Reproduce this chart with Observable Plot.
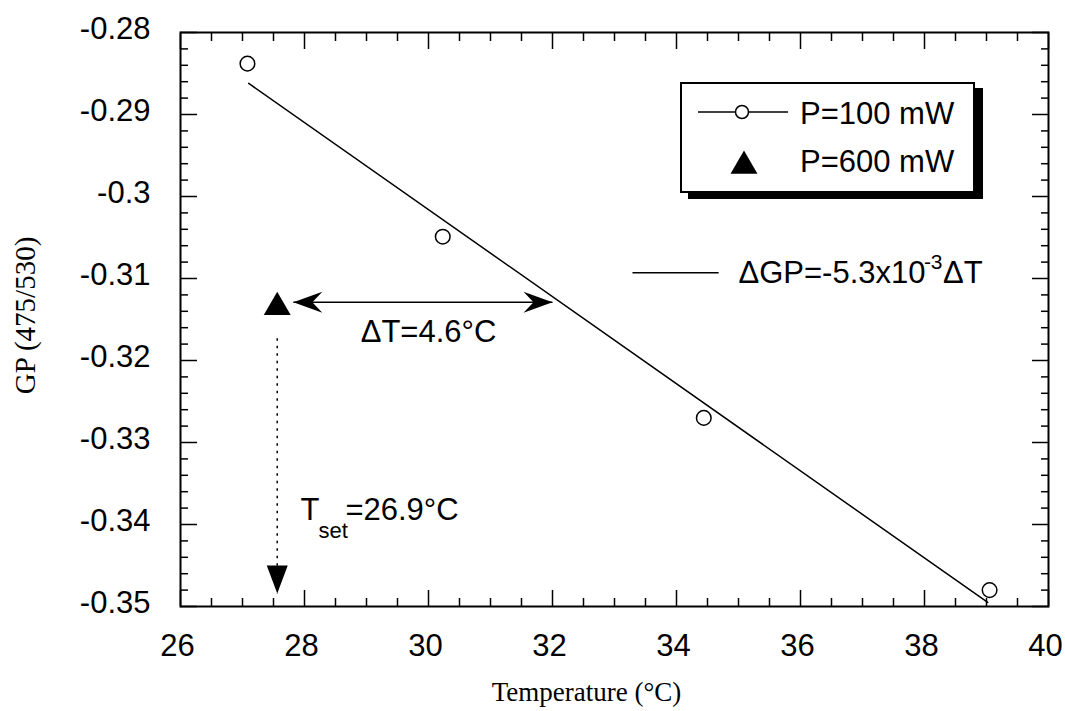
<!DOCTYPE html>
<html>
<head>
<meta charset="utf-8">
<script src="https://cdn.jsdelivr.net/npm/d3@7"></script>
<script src="https://cdn.jsdelivr.net/npm/@observablehq/plot@0.6"></script>
<style>
  body { margin: 0; background: #fff; }
  #wrap { position: relative; width: 1065px; height: 711px; font-family: "Liberation Sans", Arial, Helvetica, sans-serif; }
  #legend { position: absolute; left: 680px; top: 82px; width: 295px; height: 111px; box-sizing: border-box;
            border: 2px solid #000; background: #fff; box-shadow: 8px 6px 0 #000; }
  .lt { position: absolute; left: 118px; font-size: 31px; line-height: 36px; height: 36px; color: #000; white-space: nowrap; }
</style>
</head>
<body>
<div id="wrap">
  <div id="chart"></div>
  <div id="legend"></div>
</div>
<script>
// ---- data ----
const temp100 = [27.08, 30.23, 34.44, 39.05];
const gp100   = [-0.2838, -0.3049, -0.3270, -0.3480];
const temp600 = [27.56];
const gp600   = [-0.3135];
const fitTemp = [27.1, 39.02];
const fitGP   = [-0.2862, -0.3495];
const seriesNames = ["P=100 mW", "P=600 mW"];

const xTicks = [26, 28, 30, 32, 34, 36, 38, 40];
const xTickLabels = ["26", "28", "30", "32", "34", "36", "38", "40"];
const yTicks = [-0.35, -0.34, -0.33, -0.32, -0.31, -0.30, -0.29, -0.28];
const yTickLabels = ["-0.35", "-0.34", "-0.33", "-0.32", "-0.31", "-0.3", "-0.29", "-0.28"];
const xTitle = "Temperature (°C)";
const yTitle = "GP (475/530)";

// annotations (positions in data units)
const deltaArrowT = [27.82, 32.0];
const deltaArrowGP = [-0.3129];
const deltaText = ["ΔT=4.6°C"];
const deltaTextPos = [30.0, -0.3178];
const setArrowT = [27.56];
const setArrowGP = [-0.3173, -0.3484];
const setMainText = ["T", "=26.9°C"];
const setMainT = [27.935, 28.66];
const setMainGP = [-0.3395];
const setSubText = ["set"];
const setSubT = [28.226];
const setSubGP = [-0.3416];
const eqSampleT = [33.29, 34.68];
const eqSampleGP = [-0.3093];
const eqMainText = ["ΔGP=-5.3x10", "ΔT"];
const eqMainT = [35.0, 38.3];
const eqMainGP = [-0.3106];
const eqSupText = ["-3"];
const eqSupT = [37.99];
const eqSupGP = [-0.3088];

// ---- tables built from the arrays ----
const pts100 = temp100.map((t, i) => ({t, gp: gp100[i]}));
const pts600 = temp600.map((t, i) => ({t, gp: gp600[i]}));
const fit = fitTemp.map((t, i) => ({t, gp: fitGP[i]}));
const xMinor = d3.range(26, 40.001, 0.5).filter(v => !xTicks.includes(v));
const yMinor = d3.range(0, 36).map(i => -0.35 + i * 0.002).filter(v => !yTicks.some(t => Math.abs(t - v) < 1e-9));
const yFmt = d => yTickLabels[yTicks.findIndex(t => Math.abs(t - d) < 1e-9)];
const xFmt = d => xTickLabels[xTicks.indexOf(d)];

const deltaLink = [{x1: deltaArrowT[0], x2: deltaArrowT[1], y: deltaArrowGP[0]}];
const deltaHeads = [
  {x: deltaArrowT[0], y: deltaArrowGP[0], a: -90},
  {x: deltaArrowT[1], y: deltaArrowGP[0], a: 90}
];
const setLink = [{x: setArrowT[0], y1: setArrowGP[0], y2: setArrowGP[1]}];
const setHead = [{x: setArrowT[0], y: setArrowGP[1], a: 180}];
const setMain = setMainText.map((s, i) => ({s, x: setMainT[i], y: setMainGP[0]}));
const setSub = setSubText.map((s, i) => ({s, x: setSubT[i], y: setSubGP[0]}));
const eqLink = [{x1: eqSampleT[0], x2: eqSampleT[1], y: eqSampleGP[0]}];
const eqMain = eqMainText.map((s, i) => ({s, x: eqMainT[i], y: eqMainGP[0]}));
const eqSup = eqSupText.map((s, i) => ({s, x: eqSupT[i], y: eqSupGP[0]}));

// arrowhead shapes (tip at origin, pointing up)
const stealthHead = { draw(ctx, size) { const r = Math.sqrt(size / Math.PI);
  ctx.moveTo(0, 0); ctx.lineTo(1.05 * r, 2.9 * r); ctx.lineTo(0, 1.9 * r); ctx.lineTo(-1.05 * r, 2.9 * r); ctx.closePath(); } };
const plainHead = { draw(ctx, size) { const r = Math.sqrt(size / Math.PI);
  ctx.moveTo(0, 0); ctx.lineTo(1.05 * r, 2.8 * r); ctx.lineTo(-1.05 * r, 2.8 * r); ctx.closePath(); } };

const sans = '"Liberation Sans", Arial, Helvetica, sans-serif';
const serif = '"Liberation Serif", "Times New Roman", Times, serif';
const F = 31;

const chart = Plot.plot({
  width: 1065, height: 711,
  marginTop: 32, marginRight: 17, marginBottom: 105, marginLeft: 180,
  x: {domain: [26, 40]},
  y: {domain: [-0.35, -0.28]},
  style: {fontFamily: sans, color: "#000", background: "#fff", overflow: "visible"},
  marks: [
    // ticks inward on all sides
    Plot.axisX(xTicks, {anchor: "bottom", tickSize: -16, fill: "none", strokeWidth: 1.5}),
    Plot.axisX(xMinor, {anchor: "bottom", tickSize: -8, fill: "none", strokeWidth: 1.5}),
    Plot.axisX(xTicks, {anchor: "top", tickSize: -16, fill: "none", strokeWidth: 1.5}),
    Plot.axisX(xMinor, {anchor: "top", tickSize: -8, fill: "none", strokeWidth: 1.5}),
    Plot.axisY(yTicks, {anchor: "left", tickSize: -17, fill: "none", strokeWidth: 1.5}),
    Plot.axisY(yMinor, {anchor: "left", tickSize: -8, fill: "none", strokeWidth: 1.5}),
    Plot.axisY(yTicks, {anchor: "right", tickSize: -17, fill: "none", strokeWidth: 1.5}),
    Plot.axisY(yMinor, {anchor: "right", tickSize: -8, fill: "none", strokeWidth: 1.5}),
    // tick labels
    Plot.axisX(xTicks, {anchor: "bottom", tickSize: 0, tickPadding: 27, dx: -3, tickFormat: xFmt, fontSize: F, label: null, fill: "#000"}),
    Plot.axisY(yTicks, {anchor: "left", tickSize: 0, tickPadding: 30, dy: -3, tickFormat: yFmt, fontSize: F, label: null, fill: "#000"}),
    // axis titles
    Plot.text([xTitle], {text: d => d, frameAnchor: "bottom", dy: 86, dx: -28, textAnchor: "middle", lineAnchor: "middle", fontFamily: serif, fontSize: 27, fill: "#000"}),
    Plot.text([yTitle], {text: d => d, frameAnchor: "left", dx: -155, dy: -4, rotate: -90, textAnchor: "middle", lineAnchor: "middle", fontFamily: serif, fontSize: 29, fill: "#000"}),
    Plot.frame({stroke: "#000", strokeWidth: 2}),
    // fit line and data
    Plot.line(fit, {x: "t", y: "gp", stroke: "#000", strokeWidth: 1.5}),
    Plot.dot(pts100, {x: "t", y: "gp", r: 7.3, stroke: "#000", strokeWidth: 1.5, fill: "none"}),
    Plot.dot(pts600, {x: "t", y: "gp", symbol: "triangle", r: 10, fill: "#000", stroke: "none"}),
    // ΔT double arrow
    Plot.link(deltaLink, {x1: "x1", x2: "x2", y1: "y", y2: "y", stroke: "#000", strokeWidth: 1.5}),
    Plot.dot(deltaHeads, {x: "x", y: "y", rotate: "a", symbol: stealthHead, r: 10, fill: "#000", stroke: "none"}),
    Plot.text(deltaText, {text: d => d, x: () => deltaTextPos[0], y: () => deltaTextPos[1], textAnchor: "middle", lineAnchor: "bottom", fontSize: F, fill: "#000"}),
    // T_set dotted arrow
    Plot.link(setLink, {x1: "x", x2: "x", y1: "y1", y2: "y2", stroke: "#000", strokeWidth: 1.5, strokeDasharray: "2.5,5"}),
    Plot.dot(setHead, {x: "x", y: "y", rotate: "a", symbol: plainHead, r: 10, fill: "#000", stroke: "none"}),
    Plot.text(setMain, {x: "x", y: "y", text: "s", textAnchor: "start", lineAnchor: "bottom", fontSize: F, fill: "#000"}),
    Plot.text(setSub, {x: "x", y: "y", text: "s", textAnchor: "start", lineAnchor: "bottom", fontSize: 22, fill: "#000"}),
    // fit equation
    Plot.link(eqLink, {x1: "x1", x2: "x2", y1: "y", y2: "y", stroke: "#000", strokeWidth: 1.5}),
    Plot.text(eqMain, {x: "x", y: "y", text: "s", textAnchor: "start", lineAnchor: "bottom", fontSize: F, fill: "#000"}),
    Plot.text(eqSup, {x: "x", y: "y", text: "s", textAnchor: "start", lineAnchor: "bottom", fontSize: 21, fill: "#000"})
  ]
});
document.getElementById("chart").appendChild(chart);

// legend box (HTML overlay), built from the series names
const legend = document.getElementById("legend");
legend.innerHTML =
  `<svg width="120" height="107" style="position:absolute;left:0;top:0">
     <line x1="16" x2="106" y1="28" y2="28" stroke="#000" stroke-width="1.5"/>
     <circle cx="60" cy="28" r="6.5" fill="#fff" stroke="#000" stroke-width="1.5"/>
     <path d="${d3.symbol(d3.symbolTriangle, 100 * Math.PI)()}" transform="translate(62,82)" fill="#000"/>
   </svg>` +
  seriesNames.map((s, i) => `<div class="lt" style="top:${i === 0 ? 12 : 60}px">${s}</div>`).join("");
</script>
</body>
</html>
